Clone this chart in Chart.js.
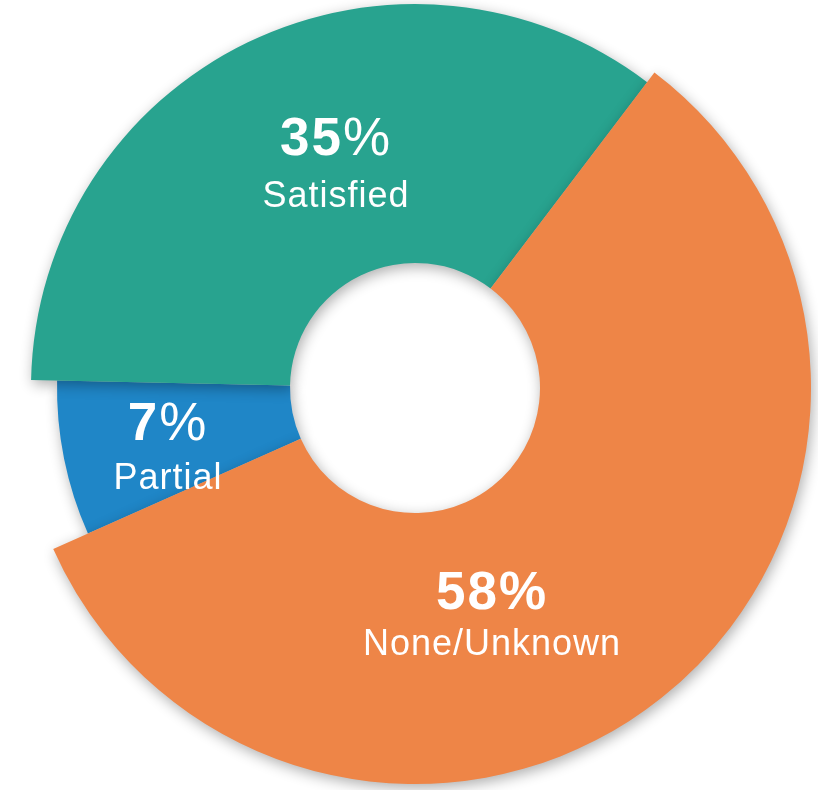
<!DOCTYPE html>
<html>
<head>
<meta charset="utf-8">
<title>Status</title>
<script src="https://cdn.jsdelivr.net/npm/chart.js@4.4.1/dist/chart.umd.min.js"></script>
<style>
  html, body { margin: 0; padding: 0; background: #fff; }
  #wrap { width: 818px; height: 790px; }
</style>
</head>
<body>
<div id="wrap"><canvas id="statusChart"></canvas></div>
<script>
// slices run clockwise in this order; the last one is painted on top
const categories = ['Partial', 'Satisfied', 'None/Unknown'];
const percents = [7, 35, 58];
const sliceColors = ['#1f86c7', '#28a38f', '#ee8547'];

// every slice has its own outer radius (px)
const sliceRadius = [358, 384, 396];
// label placement relative to the centre of the ring: [dx, percent baseline dy, name baseline dy]
const labelOffset = [[-247, 52, 101], [-79, -233, -181], [77, 221, 267]];
// weight of the "%" sign in each label
const pctWeight = ['normal', 'normal', 'bold'];

const FONT = '"Liberation Sans", Arial, Helvetica, sans-serif';
const PCT_SIZE = 53;
const NAME_SIZE = 36;

// --- per-slice outer radius ---
const sliceRadiusPlugin = {
  id: 'sliceRadius',
  afterDatasetsUpdate(chart) {
    const meta = chart.getDatasetMeta(0);
    meta.data.forEach((arc, i) => {
      arc.outerRadius = sliceRadius[i];
    });
  }
};

// --- soft drop shadow under the slices ---
const shadowPlugin = {
  id: 'sliceShadow',
  beforeDatasetsDraw(chart) {
    const ctx = chart.ctx;
    ctx.save();
    ctx.shadowColor = 'rgba(0, 0, 0, 0.32)';
    ctx.shadowBlur = 14;
    ctx.shadowOffsetX = 2;
    ctx.shadowOffsetY = 4;
  },
  afterDatasetsDraw(chart) {
    chart.ctx.restore();
  }
};

// --- "NN%" on top, category name below ---
function drawPercent(ctx, x, y, value, weight) {
  const num = String(value);
  const numFont = 'bold ' + PCT_SIZE + 'px ' + FONT;
  const pctFont = weight + ' ' + PCT_SIZE + 'px ' + FONT;
  ctx.letterSpacing = '2px';
  ctx.font = numFont;
  const wNum = ctx.measureText(num).width;
  ctx.font = pctFont;
  const wPct = ctx.measureText('%').width;
  const left = x - (wNum + wPct) / 2;
  ctx.textAlign = 'left';
  ctx.font = numFont;
  ctx.fillText(num, left, y);
  ctx.font = pctFont;
  ctx.fillText('%', left + wNum, y);
}

const labelPlugin = {
  id: 'sliceLabels',
  afterDatasetsDraw(chart) {
    const ctx = chart.ctx;
    const arc = chart.getDatasetMeta(0).data[0];
    const cx = arc.x, cy = arc.y;
    ctx.save();
    ctx.fillStyle = '#ffffff';
    ctx.textBaseline = 'alphabetic';
    categories.forEach((name, i) => {
      const [dx, dyPct, dyName] = labelOffset[i];
      drawPercent(ctx, cx + dx, cy + dyPct, percents[i], pctWeight[i]);
      ctx.letterSpacing = '1px';
      ctx.font = NAME_SIZE + 'px ' + FONT;
      ctx.textAlign = 'center';
      ctx.fillText(name, cx + dx, cy + dyName);
    });
    ctx.restore();
  }
};

const ctx = document.getElementById('statusChart');
new Chart(ctx, {
  type: 'doughnut',
  data: {
    labels: categories,
    datasets: [{
      data: percents,
      backgroundColor: sliceColors,
      borderWidth: 0
    }]
  },
  options: {
    responsive: true,
    maintainAspectRatio: false,
    animation: false,
    events: [],
    rotation: 246,
    cutout: 125,
    layout: {
      padding: { left: 12, right: 0, top: 0, bottom: 14 }
    },
    plugins: {
      legend: { display: false },
      tooltip: { enabled: false }
    }
  },
  plugins: [sliceRadiusPlugin, shadowPlugin, labelPlugin]
});
</script>
</body>
</html>
